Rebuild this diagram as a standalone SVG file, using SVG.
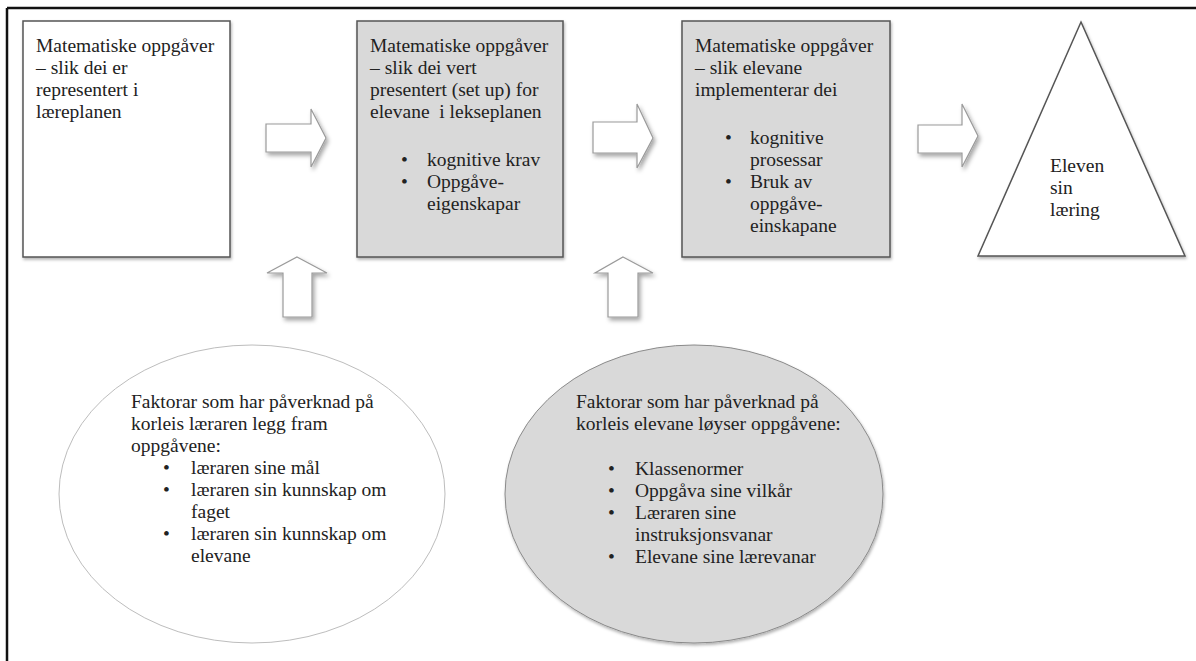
<svg xmlns="http://www.w3.org/2000/svg" width="1196" height="661" viewBox="0 0 1196 661">
<style>
text{font-family:"Liberation Serif","Times New Roman",serif;font-size:19.5px;fill:#222}
.box{stroke:#555;stroke-width:1.5}
.arr{fill:#fff;stroke:#9a9a9a;stroke-width:1.2;filter:url(#sh)}
</style>
<defs>
<filter id="sh" x="-20%" y="-20%" width="150%" height="150%">
<feDropShadow dx="2" dy="3" stdDeviation="2" flood-color="#000" flood-opacity="0.35"/>
</filter>
<filter id="sh2" x="-10%" y="-10%" width="130%" height="130%">
<feDropShadow dx="1" dy="2" stdDeviation="1.5" flood-color="#000" flood-opacity="0.3"/>
</filter>
</defs>
<rect width="1196" height="661" fill="#fff"/>
<path d="M7,8 H1196 M7,8 V661" fill="none" stroke="#111" stroke-width="2.5"/>

<g id="box1">
<rect class="box" x="23" y="21" width="207" height="236" fill="#fff" filter="url(#sh2)"/>
<text x="36" y="52">Matematiske oppgåver</text>
<text x="36" y="74">– slik dei er</text>
<text x="36" y="96">representert i</text>
<text x="36" y="118">læreplanen</text>
</g>

<g id="box2">
<rect class="box" x="357" y="21" width="206" height="236" fill="#d9d9d9" filter="url(#sh2)"/>
<text x="370" y="52">Matematiske oppgåver</text>
<text x="370" y="74">– slik dei vert</text>
<text x="370" y="96">presentert (set up) for</text>
<text x="370" y="118" xml:space="preserve">elevane  i lekseplanen</text>
<text x="401" y="166">•</text><text x="427" y="166">kognitive krav</text>
<text x="401" y="188">•</text><text x="427" y="188">Oppgåve-</text>
<text x="427" y="210">eigenskapar</text>
</g>

<g id="box3">
<rect class="box" x="682" y="21" width="208" height="236" fill="#d9d9d9" filter="url(#sh2)"/>
<text x="695" y="52">Matematiske oppgåver</text>
<text x="695" y="74">– slik elevane</text>
<text x="695" y="96">implementerar dei</text>
<text x="725" y="144">•</text><text x="750" y="144">kognitive</text>
<text x="750" y="166">prosessar</text>
<text x="725" y="188">•</text><text x="750" y="188">Bruk av</text>
<text x="750" y="210">oppgåve-</text>
<text x="750" y="232">einskapane</text>
</g>

<g id="triangle">
<polygon points="1081,22 1185,256 978,256" fill="#fff" stroke="#555" stroke-width="1.5" filter="url(#sh2)"/>
<text x="1050" y="172">Eleven</text>
<text x="1050" y="194">sin</text>
<text x="1050" y="216">læring</text>
</g>

<g id="ellipse1">
<ellipse cx="252" cy="494" rx="193" ry="149" fill="#fff" stroke="#bdbdbd" stroke-width="1"/>
<text x="131" y="408">Faktorar som har påverknad på</text>
<text x="131" y="430">korleis læraren legg fram</text>
<text x="131" y="452">oppgåvene:</text>
<text x="163" y="474">•</text><text x="191" y="474">læraren sine mål</text>
<text x="163" y="496">•</text><text x="191" y="496">læraren sin kunnskap om</text>
<text x="191" y="518">faget</text>
<text x="163" y="540">•</text><text x="191" y="540">læraren sin kunnskap om</text>
<text x="191" y="562">elevane</text>
</g>

<g id="ellipse2">
<ellipse cx="694" cy="494" rx="189" ry="149" fill="#d9d9d9" stroke="#8a8a8a" stroke-width="1" filter="url(#sh2)"/>
<text x="576" y="408">Faktorar som har påverknad på</text>
<text x="576" y="430">korleis elevane løyser oppgåvene:</text>
<text x="608" y="475">•</text><text x="635" y="475">Klassenormer</text>
<text x="608" y="497">•</text><text x="635" y="497">Oppgåva sine vilkår</text>
<text x="608" y="519">•</text><text x="635" y="519">Læraren sine</text>
<text x="635" y="541">instruksjonsvanar</text>
<text x="608" y="563">•</text><text x="635" y="563">Elevane sine lærevanar</text>
</g>

<g id="connectors">
<polygon class="arr" points="266,124 311,124 311,109 326,138 311,167 311,152 266,152"/>
<polygon class="arr" points="593,122 637,122 637,104 653,138 637,168 637,153 593,153"/>
<polygon class="arr" points="918,125 962,125 962,104 978,136 962,167 962,153 918,153"/>
<polygon class="arr" points="297,257 327,273 312,273 312,317 283,317 283,273 267,273"/>
<polygon class="arr" points="623,257 653,273 638,273 638,317 608,317 608,273 595,273"/>
</g>
</svg>
